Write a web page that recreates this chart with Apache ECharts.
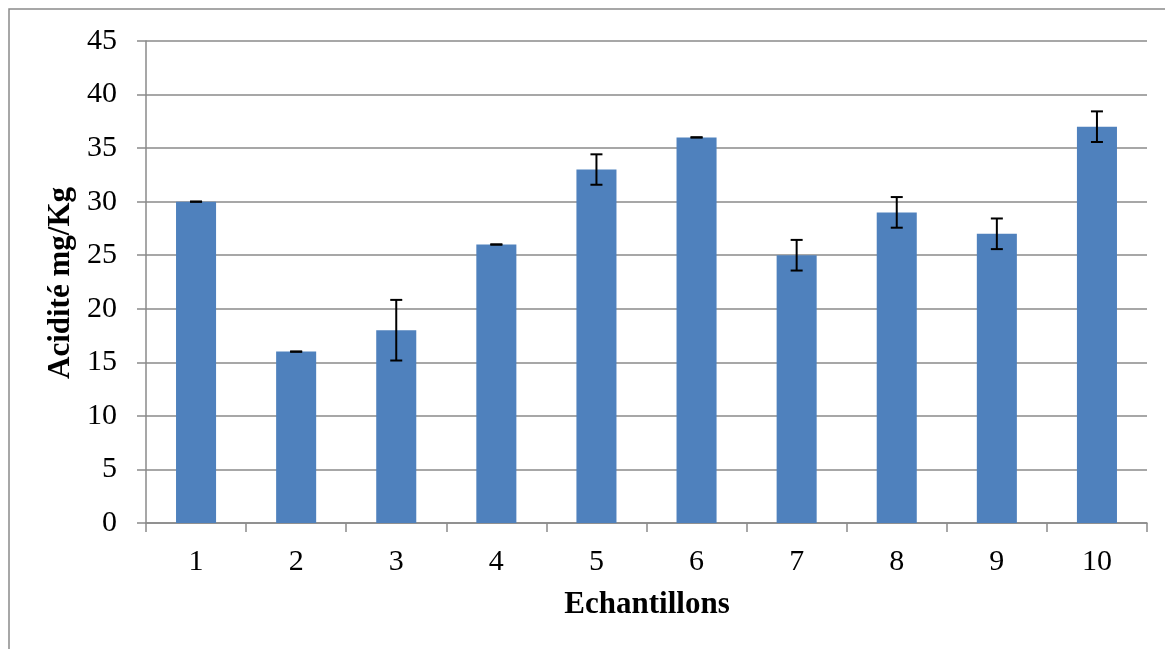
<!DOCTYPE html>
<html>
<head>
<meta charset="utf-8">
<script src="https://cdn.jsdelivr.net/npm/echarts@6/dist/echarts.min.js"></script>
<style>
html,body{margin:0;padding:0;background:#fff;}
#chart{width:1165px;height:649px;}
</style>
</head>
<body>
<div id="chart"></div>
<script>
const categories = ['1','2','3','4','5','6','7','8','9','10'];
const values = [30, 16, 18, 26, 33, 36, 25, 29, 27, 37];
const errors = [0, 0, 2.83, 0, 1.42, 0, 1.43, 1.43, 1.43, 1.43];
const yTitle = 'Acidité mg/Kg';
const xTitle = 'Echantillons';

const font = '"Liberation Serif", "Times New Roman", serif';
const gray = '#8a8a8a';

const chart = echarts.init(document.getElementById('chart'), null, {renderer: 'canvas'});
chart.setOption({
  animation: false,
  backgroundColor: '#fff',
  grid: {left: 146, right: 18, top: 41, bottom: 126, containLabel: false},
  xAxis: {
    type: 'category',
    data: categories,
    axisLine: {lineStyle: {color: gray, width: 1.5}},
    axisTick: {show: true, length: 9, lineStyle: {color: gray, width: 1.5}},
    axisLabel: {color: '#000', fontFamily: font, fontSize: 30, margin: 24}
  },
  yAxis: {
    type: 'value',
    min: 0, max: 45, interval: 5,
    axisLine: {show: true, lineStyle: {color: gray, width: 1.5}},
    axisTick: {show: true, length: 9, lineStyle: {color: gray, width: 1.5}},
    splitLine: {lineStyle: {color: gray, width: 1.5}},
    axisLabel: {color: '#000', fontFamily: font, fontSize: 30, margin: 29}
  },
  series: [
    {
      type: 'bar',
      data: values,
      barWidth: '40%',
      itemStyle: {color: '#4F81BD'}
    },
    {
      type: 'custom',
      data: values.map((v, i) => [i, v - errors[i], v + errors[i]]),
      z: 10,
      renderItem: function (params, api) {
        const lo = api.coord([api.value(0), api.value(1)]);
        const hi = api.coord([api.value(0), api.value(2)]);
        const half = 6;
        const style = {stroke: '#000', lineWidth: 2};
        return {
          type: 'group',
          children: [
            {type: 'line', shape: {x1: hi[0], y1: hi[1], x2: lo[0], y2: lo[1]}, style: style},
            {type: 'line', shape: {x1: hi[0] - half, y1: hi[1], x2: hi[0] + half, y2: hi[1]}, style: style},
            {type: 'line', shape: {x1: lo[0] - half, y1: lo[1], x2: lo[0] + half, y2: lo[1]}, style: style}
          ]
        };
      }
    }
  ],
  graphic: [
    {type: 'rect', x: 9, y: 9, shape: {x: 0, y: 0, width: 1300, height: 800}, style: {fill: 'none', stroke: gray, lineWidth: 1.5}, silent: true},
    {type: 'text', x: 647, y: 605, style: {text: xTitle, font: 'bold 31px ' + font, fill: '#000', align: 'center', verticalAlign: 'middle'}},
    {type: 'text', x: 61, y: 283, rotation: Math.PI / 2, style: {text: yTitle, font: 'bold 31px ' + font, fill: '#000', align: 'center', verticalAlign: 'middle'}}
  ]
});
</script>
</body>
</html>
